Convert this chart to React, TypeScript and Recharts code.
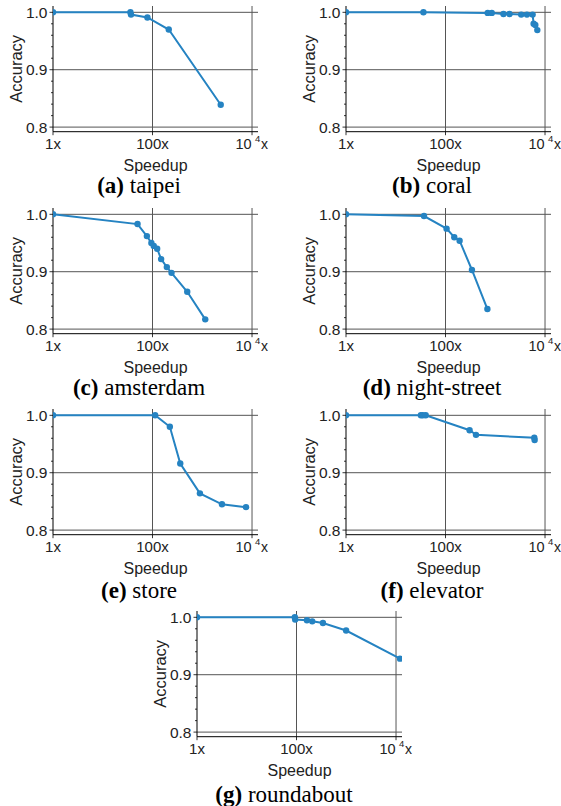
import React from 'react';
import { LineChart, Line, XAxis, YAxis, ReferenceLine, Label } from 'recharts';

// ---- data ----
const taipeiSpeedup = [1, 36, 37, 79, 212, 2350];
const taipeiAccuracy = [1.0, 1.0, 0.996, 0.991, 0.97, 0.839];

const coralSpeedup = [1, 36, 705, 850, 1462, 1933, 3325, 4330, 5630, 5900, 6380, 7000];
const coralAccuracy = [1.0, 1.0, 0.999, 0.999, 0.997, 0.997, 0.996, 0.996, 0.996, 0.98, 0.978, 0.969];

const amsterdamSpeedup = [1, 50, 77, 95, 106, 124, 149, 194, 241, 499, 1148];
const amsterdamAccuracy = [1.0, 0.983, 0.962, 0.95, 0.945, 0.94, 0.922, 0.908, 0.898, 0.865, 0.817];

const nightStreetSpeedup = [1, 37, 105, 150, 192, 340, 695];
const nightStreetAccuracy = [1.0, 0.997, 0.975, 0.96, 0.954, 0.903, 0.835];

const storeSpeedup = [1, 113, 223, 361, 897, 2488, 7570];
const storeAccuracy = [1.0, 1.0, 0.98, 0.916, 0.864, 0.845, 0.84];

const elevatorSpeedup = [1, 32, 35, 40, 305, 410, 6090, 6180];
const elevatorAccuracy = [1.0, 1.0, 1.0, 1.0, 0.974, 0.966, 0.961, 0.957];

const roundaboutSpeedup = [1, 92.5, 94, 162, 207, 340, 993, 12050];
const roundaboutAccuracy = [1.0, 1.0, 0.996, 0.995, 0.993, 0.99, 0.977, 0.928];

const panelLetters = ['a', 'b', 'c', 'd', 'e', 'f', 'g'];
const panelNames = ['taipei', 'coral', 'amsterdam', 'night-street', 'store', 'elevator', 'roundabout'];

const xTicks = [1, 100, 10000];
const xGridValues = [100, 10000];
const yTicks = [0.8, 0.82, 0.84, 0.86, 0.88, 0.9, 0.92, 0.94, 0.96, 0.98, 1.0];
const yMajor = [0.8, 0.9, 1.0];
const xDomain = [1, 13183];
const yDomain = [0.792, 1.011];

const seriesX = [taipeiSpeedup, coralSpeedup, amsterdamSpeedup, nightStreetSpeedup, storeSpeedup, elevatorSpeedup, roundaboutSpeedup];
const seriesY = [taipeiAccuracy, coralAccuracy, amsterdamAccuracy, nightStreetAccuracy, storeAccuracy, elevatorAccuracy, roundaboutAccuracy];

// ---- layout ----
const LINE_COLOR = '#2583c2';
const GRID_COLOR = '#555555';
const SANS = '"Liberation Sans", Arial, Helvetica, sans-serif';
const SERIF = '"Liberation Serif", "Times New Roman", serif';

const layout = [
  { left: 0.3, top: 2.0, titleX: 139, titleY: 186.5 },
  { left: 292.7, top: 2.0, titleX: 432, titleY: 186.5 },
  { left: 0.3, top: 203.7, titleX: 139, titleY: 388.5 },
  { left: 292.7, top: 203.7, titleX: 432, titleY: 388.5 },
  { left: 0.3, top: 405.4, titleX: 139, titleY: 591 },
  { left: 292.7, top: 405.4, titleX: 432, titleY: 591 },
  { left: 144.3, top: 607.4, titleX: 284, titleY: 795 },
];

const CHART_W = 283;
const CHART_H = 180;
const MARGIN = { top: 4, right: 25, bottom: 0, left: 0 };
const Y_AXIS_W = 53;
const X_AXIS_H = 50.3;

const YTick = (props: any) => {
  const { x, y, payload } = props;
  const v = payload.value as number;
  const major = yMajor.some((m) => Math.abs(m - v) < 1e-6);
  return (
    <g>
      <line x1={x - (major ? 3.5 : 2)} x2={x} y1={y} y2={y} stroke="#000" strokeWidth={0.8} />
      {major && (
        <text x={x - 5.5} y={y} dy="0.36em" textAnchor="end" fontFamily={SANS} fontSize={15.5} fill="#222">
          {v.toFixed(1)}
        </text>
      )}
    </g>
  );
};

const XTick = (props: any) => {
  const { x, y, payload } = props;
  const v = payload.value as number;
  let content: React.ReactNode;
  if (v === 10000) {
    content = (
      <g fontFamily={SANS} fill="#222">
        <text x={x - 0.5} y={y + 17} textAnchor="end" fontSize={14.5}>10</text>
        <text x={x + 3} y={y + 10} textAnchor="start" fontSize={9.5}>4</text>
        <text x={x + 9} y={y + 17} textAnchor="start" fontSize={14}>x</text>
      </g>
    );
  } else {
    content = (
      <text x={x} y={y + 17} textAnchor="middle" fontFamily={SANS} fontSize={15} fill="#222">
        {`${v}x`}
      </text>
    );
  }
  return (
    <g>
      <line x1={x} x2={x} y1={y} y2={y + 3.5} stroke="#000" strokeWidth={0.8} />
      {content}
    </g>
  );
};

const XLabel = (props: any) => {
  const vb = props.viewBox || {};
  return (
    <text x={vb.x + vb.width / 2} y={vb.y + 39.5} textAnchor="middle" fontFamily={SANS} fontSize={16} fill="#222">
      Speedup
    </text>
  );
};

const YLabel = (props: any) => {
  const vb = props.viewBox || {};
  const cx = 16;
  const cy = vb.y + vb.height / 2;
  return (
    <text
      x={cx}
      y={cy}
      transform={`rotate(-90, ${cx}, ${cy})`}
      textAnchor="middle"
      dominantBaseline="central"
      fontFamily={SANS}
      fontSize={16.5}
      fill="#222"
    >
      Accuracy
    </text>
  );
};

const Panel = ({ index }: { index: number }) => {
  const xs = seriesX[index];
  const ys = seriesY[index];
  const data = xs.map((s, i) => ({ speedup: s, accuracy: ys[i] }));
  const pos = layout[index];
  return (
    <>
      <div style={{ position: 'absolute', left: pos.left, top: pos.top }}>
        <LineChart width={CHART_W} height={CHART_H} data={data} margin={MARGIN}>
          {yMajor.map((v) => (
            <ReferenceLine key={`h${v}`} y={v} stroke={GRID_COLOR} strokeWidth={1} />
          ))}
          {xGridValues.map((v) => (
            <ReferenceLine key={`v${v}`} x={v} stroke={GRID_COLOR} strokeWidth={1} />
          ))}
          <XAxis
            dataKey="speedup"
            type="number"
            scale="log"
            domain={xDomain}
            allowDataOverflow
            ticks={xTicks}
            interval={0}
            tickSize={0}
            tickMargin={0}
            tickLine={false}
            tick={<XTick />}
            height={X_AXIS_H}
            axisLine={{ stroke: '#000', strokeWidth: 1 }}
          >
            <Label content={<XLabel />} />
          </XAxis>
          <YAxis
            type="number"
            domain={yDomain}
            allowDataOverflow
            ticks={yTicks}
            interval={0}
            tickSize={0}
            tickMargin={0}
            tickLine={false}
            tick={<YTick />}
            width={Y_AXIS_W}
            axisLine={{ stroke: '#000', strokeWidth: 1 }}
          >
            <Label content={<YLabel />} />
          </YAxis>
          <Line
            type="linear"
            dataKey="accuracy"
            stroke={LINE_COLOR}
            strokeWidth={2}
            dot={{ r: 3.2, fill: LINE_COLOR, stroke: LINE_COLOR, strokeWidth: 0 }}
            isAnimationActive={false}
          />
        </LineChart>
      </div>
      <div
        style={{
          position: 'absolute',
          left: pos.titleX - 150,
          top: pos.titleY - 13.5,
          width: 300,
          textAlign: 'center',
          fontFamily: SERIF,
          fontSize: 23,
          lineHeight: '26px',
          color: '#000',
          whiteSpace: 'nowrap',
        }}
      >
        <b>({panelLetters[index]})</b> {panelNames[index]}
      </div>
    </>
  );
};

export default function App() {
  return (
    <div
      style={{
        position: 'absolute',
        left: 0,
        top: 0,
        width: 561,
        height: 806,
        overflow: 'hidden',
        background: '#fff',
      }}
    >
      {panelNames.map((_, i) => (
        <Panel key={i} index={i} />
      ))}
    </div>
  );
}
